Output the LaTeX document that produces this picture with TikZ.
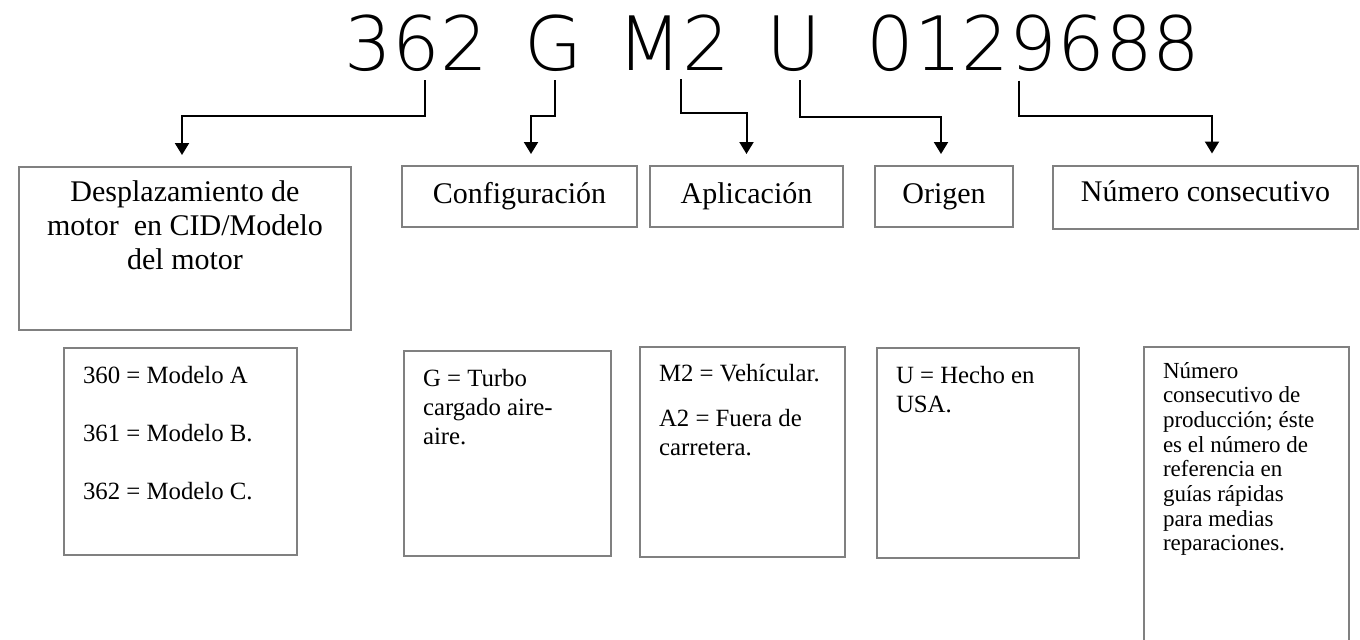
\documentclass[tikz,border=0pt]{standalone}
\usepackage{fontspec}
\setmainfont{Liberation Serif}
\newfontfamily\codefont{DejaVuSans-ExtraLight.ttf}
\usetikzlibrary{arrows.meta}
\definecolor{boxgray}{RGB}{128,128,128}
% text of a tall box, flush left with a margin
\newcommand{\notebody}[2]{\parbox[t]{#1}{\raggedright\leftskip=9.5pt\relax #2}}

\begin{document}
\begin{tikzpicture}[
        x=0.5pt, y=-0.5pt,
        code/.style={font=\codefont\fontsize{37.5}{40}\selectfont, inner xsep=0pt, inner ysep=4.5pt, anchor=base},
        box/.style={draw=boxgray, line width=1pt},
        title/.style={box, font=\fontsize{15}{17}\selectfont, minimum height=30.5pt, inner sep=0pt,
                      text height=11pt, text depth=4.5pt},
        note/.style={box, anchor=north west, inner sep=0pt, font=\fontsize{12.4}{14.5}\selectfont},
        arr/.style={-{Triangle[length=6pt,width=7pt]}, line width=1pt},
    ]
        \useasboundingbox (0,0) rectangle (1360,639);

        % Engine number
        \node[code] (k362) at (416.5,70) {362};
        \node[code] (kG) at (553.5,70) {G};
        \node[code] (kM2) at (673.5,70) {M2};
        \node[code] (kU) at (794,70) {U};
        \node[code] (kserial) at (1033.5,70) {0129688};

        % Field names
        \node[box, anchor=north west, inner sep=0pt, font=\fontsize{15}{17}\selectfont,
              text height=17pt, text depth=64.5pt] (desc) at (18,166)
              {\parbox[t]{166pt}{\centering Desplazamiento de\\ motor~ en CID/Modelo\\ del motor}};
        \node[title, minimum width=117.5pt] (config) at (519.5,196.5) {Configuración};
        \node[title, minimum width=96.5pt] (applic) at (746.5,196.5) {Aplicación};
        \node[title, minimum width=69pt] (origin) at (944,196.5) {Origen};
        \node[title, minimum width=152.5pt, minimum height=31.5pt, text depth=6.5pt] (serial) at (1205.5,197) {Número consecutivo};

        % Meanings
        \node[note, text height=17.5pt, text depth=86pt] (models) at (63,347)
              {\notebody{116.5pt}{360 = Modelo A\\[14.5pt]361 = Modelo B.\\[14.5pt]362 = Modelo C.}};
        \node[note, text height=17.5pt, text depth=85pt] (turbo) at (403,350)
              {\notebody{103.5pt}{G = Turbo\\ cargado aire-\\ aire.}};
        \node[note, text height=17pt, text depth=88pt] (usage) at (639,346)
              {\notebody{102.5pt}{M2 = Vehícular.\\[8pt]A2 = Fuera de\\ carretera.}};
        \node[note, text height=17.5pt, text depth=87.5pt] (made) at (876,347)
              {\notebody{101pt}{U = Hecho en\\ USA.}};
        \node[note, font=\fontsize{11.5}{12.35}\selectfont, text height=15.5pt, text depth=145pt] (prod) at (1143,346)
              {\notebody{102.5pt}{Número\\ consecutivo de\\ producción; éste\\ es el número de\\ referencia en\\ guías rápidas\\ para medias\\ reparaciones.}};

        \draw[arr] ([xshift=4.25pt]k362.south) -- ++(0,36) -| ([xshift=-1.5pt,yshift=5.5pt]desc.north);
        \draw[arr] ([xshift=0.75pt]kG.south) -- ++(0,36) -| ([xshift=5.75pt,yshift=5.5pt]config.north);
        \draw[arr] ([xshift=3.75pt]kM2.south) -- ++(0,34) -| ([yshift=5.5pt]applic.north);
        \draw[arr] ([xshift=3pt]kU.south) -- ++(0,37) -| ([xshift=-1.5pt,yshift=5.5pt]origin.north);
        \draw[arr] ([xshift=-7.25pt]kserial.south) -- ++(0,35) -| ([xshift=3.25pt,yshift=5.5pt]serial.north);
    \end{tikzpicture}
\end{document}
